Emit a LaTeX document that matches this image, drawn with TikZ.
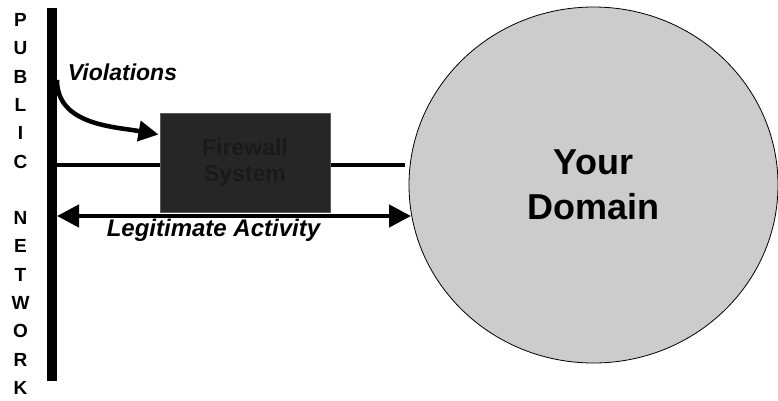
\documentclass[tikz,border=0pt]{standalone}
\usepackage{fontspec}
\setmainfont{Liberation Sans}
\usetikzlibrary{arrows.meta,shapes.geometric}
\definecolor{boxgray}{HTML}{262626}
\definecolor{boxedge}{HTML}{5A5A5A}
\definecolor{boxtext}{HTML}{1A1A1A}
\definecolor{domgray}{HTML}{CCCCCC}
\tikzset{
  wire/.style={line width=4.5pt},
  lbl/.style={font=\fontsize{23}{26}\selectfont\bfseries\itshape}
}
\begin{document}
\begin{tikzpicture}[x=1pt,y=1pt,line join=round]
  \useasboundingbox (0,0) rectangle (778,400);
  \def\ys{28.3} % letter step
  % public network bar
  \node[fill=black,inner sep=0,minimum width=10pt,minimum height=373pt] (pub) at (52,205.5) {};
  \foreach \l/\k in {P/0,U/1,B/2,L/3,I/4,C/5,N/7,E/8,T/9,W/10,O/11,R/12,K/13}
    \node[font=\fontsize{19}{21}\selectfont\bfseries,inner sep=0] (ltr\k) at (20.5,{380-\ys*\k}) {\l};
  % firewall and domain
  \node[draw=boxedge,fill=boxgray,line width=1pt,minimum width=170pt,minimum height=99pt,
        align=center,text=boxtext,font=\fontsize{23}{26}\selectfont\bfseries] (fw) at (245,237.5) {Firewall\\System};
  \node[ellipse,draw,fill=domgray,line width=0.8pt,minimum width=369pt,minimum height=356pt,
        align=center,font=\fontsize{36}{45}\selectfont\bfseries] (dom) at (593.5,215) {Your\\Domain};
  \coordinate (fwr) at (405,235);
  \coordinate (vio) at (57,320);
  \coordinate (lgl) at (57,184);
  \coordinate (lgr) at (411,184);
  % connectors
  \draw[wire] (lgl |- fwr) -- (fw.west |- fwr);
  \draw[wire] (fw.east |- fwr) -- (fwr);
  \draw[wire,{Triangle[length=22pt,width=22pt]}-{Triangle[length=22pt,width=22pt]}] (lgl) -- (lgr);
  \draw[wire,-{Triangle[length=20pt,width=20pt]}] (vio) to[out=-90,in=170] ([xshift=-1pt,yshift=-22pt]fw.north west);
  % labels
  \node[lbl] (vlbl) at (122.5,328) {Violations};
  \node[lbl,font=\fontsize{24}{26}\selectfont\bfseries\itshape] (llbl) at (213.5,170) {Legitimate Activity};
\end{tikzpicture}
\end{document}
